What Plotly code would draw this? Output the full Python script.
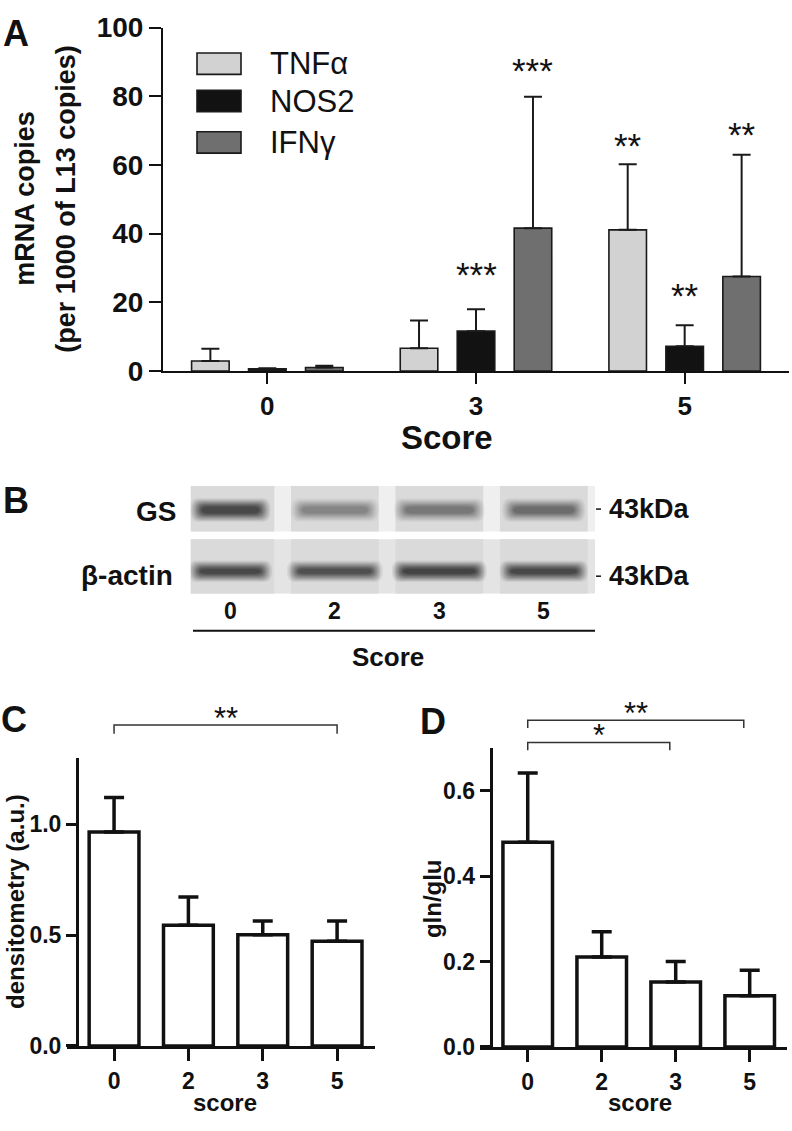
import plotly.graph_objects as go

W, H = 792, 1131
FONT = "Liberation Sans, Arial, sans-serif"

# ---------------- data ----------------
# Panel A
cats_A = ["0", "3", "5"]
series_A = ["TNFα", "NOS2", "IFNγ"]
tnf = [2.9, 6.6, 41.1]
tnf_err = [3.6, 8.1, 19.1]
nos2 = [0.6, 11.6, 7.2]
nos2_err = [0.2, 6.4, 6.1]
ifn = [1.0, 41.6, 27.5]
ifn_err = [0.5, 38.3, 35.5]
colors_A = ["#d2d2d2", "#121212", "#6f6f6f"]
star_text_A = ["***", "***", "**", "**", "**"]
star_series_A = [1, 2, 0, 1, 2]
star_cat_A = [1, 1, 2, 2, 2]
star_y_A = [26.9, 86.4, 64.4, 20.8, 67.6]

# Panel B (western blot, relative band darkness)
lanes_B = ["0", "2", "3", "5"]
gs_intensity = [0.95, 0.42, 0.52, 0.6]
gs_band_w = [0.55, 0.63, 0.65, 0.58]
actin_intensity = [0.95, 0.85, 1.0, 0.95]
actin_band_w = [0.58, 0.70, 0.69, 0.63]

# Panel C
cats_C = ["0", "2", "3", "5"]
dens = [0.965, 0.544, 0.501, 0.472]
dens_err = [0.155, 0.128, 0.062, 0.091]

# Panel D
cats_D = ["0", "2", "3", "5"]
glnglu = [0.48, 0.211, 0.152, 0.12]
glnglu_err = [0.162, 0.059, 0.048, 0.06]


def px(x):
    return x / W


def py(y):
    return 1 - y / H


fig = go.Figure()

# ---------------- Panel A ----------------
vals_A = [tnf, nos2, ifn]
errs_A = [tnf_err, nos2_err, ifn_err]
slot = 0.273
bw = 0.18
for i in range(3):
    fig.add_trace(go.Bar(
        x=cats_A, y=vals_A[i], name=series_A[i],
        width=bw, offset=(i - 1) * slot - bw / 2,
        marker=dict(color=colors_A[i], line=dict(color="#1a1a1a", width=1.6)),
        error_y=dict(type="data", symmetric=False, array=errs_A[i],
                     arrayminus=[0] * 3, thickness=2, width=9, color="#1a1a1a"),
        xaxis="x", yaxis="y", showlegend=False,
    ))

# ---------------- Panel C ----------------
fig.add_trace(go.Bar(
    x=cats_C, y=dens, width=0.67,
    marker=dict(color="white", line=dict(color="#111", width=3.5)),
    error_y=dict(type="data", symmetric=False, array=dens_err,
                 arrayminus=[0] * 4, thickness=3.5, width=10, color="#111"),
    xaxis="x2", yaxis="y2", showlegend=False,
))

# ---------------- Panel D ----------------
fig.add_trace(go.Bar(
    x=cats_D, y=glnglu, width=0.67,
    marker=dict(color="white", line=dict(color="#111", width=3.5)),
    error_y=dict(type="data", symmetric=False, array=glnglu_err,
                 arrayminus=[0] * 4, thickness=3.5, width=10, color="#111"),
    xaxis="x3", yaxis="y3", showlegend=False,
))

bold = dict(family=FONT, color="#111", weight="bold")
common = dict(showgrid=False, zeroline=False, ticklabeloverflow="allow",
              linecolor="#111", tickcolor="#111", showline=True, ticks="outside")

fig.update_layout(
    width=W, height=H, margin=dict(l=0, r=0, t=0, b=0),
    paper_bgcolor="white", plot_bgcolor="white",
    barmode="group",
    font=dict(family=FONT, color="#111"),
    xaxis=dict(domain=[px(163), px(789)], anchor="y", type="category",
               range=[-0.5, 2.5], linewidth=2, ticklen=11, tickwidth=2,
               tickfont=dict(size=26, **bold), **common),
    yaxis=dict(domain=[py(366), py(13)], anchor="x", range=[0, 100],
               tickvals=[0, 20, 40, 60, 80, 100], linewidth=2,
               ticklen=12, tickwidth=2, tickfont=dict(size=28, **bold), **common),
    xaxis2=dict(domain=[px(67), px(375)], anchor="y2", type="category",
                range=[-0.633, 3.51], linewidth=3, ticklen=12, tickwidth=3,
                tickfont=dict(size=23, **bold), **common),
    yaxis2=dict(domain=[py(1060), py(763.6)], anchor="free", position=px(77),
                range=[0, 1.3], tickvals=[0, 0.5, 1.0], tickformat=".1f",
                linewidth=3, ticklen=10, tickwidth=3,
                tickfont=dict(size=23, **bold), **common),
    xaxis3=dict(domain=[px(480), px(786.7)], anchor="y3", type="category",
                range=[-0.645, 3.5], linewidth=3, ticklen=12, tickwidth=3,
                tickfont=dict(size=23, **bold), **common),
    yaxis3=dict(domain=[py(1061), py(754)], anchor="free", position=px(490.7),
                range=[0, 0.7], tickvals=[0, 0.2, 0.4, 0.6], tickformat=".1f",
                linewidth=3, ticklen=10, tickwidth=3,
                tickfont=dict(size=23, **bold), **common),
    xaxis4=dict(domain=[px(190.7), px(595)], anchor="y4", range=[-0.38, 3.49],
                visible=False),
    yaxis4=dict(domain=[py(595), py(484)], anchor="x4", range=[0, 111],
                visible=False),
)

shapes = []
ann = []


def text(x, y, s, size, weight="bold", xanchor="center", yanchor="middle",
         xref="paper", yref="paper", angle=0, yshift=0):
    ann.append(dict(x=x, y=y, text=s, xref=xref, yref=yref, showarrow=False,
                    xanchor=xanchor, yanchor=yanchor, textangle=angle, yshift=yshift,
                    borderpad=0,
                    font=dict(family=FONT, size=size, color="#111", weight=weight)))


# Panel labels
text(px(16), py(19), "A", 36)
text(px(16), py(499), "B", 36)
text(px(14), py(724), "C", 36)
text(px(433), py(726), "D", 36)

# Panel A titles
text(px(25), py(189), "mRNA copies", 27, angle=-90)
text(px(66), py(189), "(per 1000 of L13 copies)", 27, angle=-90)
text(px(447), py(434), "Score", 33)

# Panel A legend (drawn from series names / colours)
leg_y = [50, 88.5, 131]
for i in range(3):
    shapes.append(dict(type="rect", xref="paper", yref="paper",
                       x0=px(197), x1=px(241), y0=py(leg_y[i] + 11), y1=py(leg_y[i] - 11),
                       fillcolor=colors_A[i], line=dict(color="#1a1a1a", width=1.6)))
    text(px(269), py(leg_y[i]), series_A[i], 31, weight="normal", xanchor="left")

# Panel A stars
for t, s, c, yv in zip(star_text_A, star_series_A, star_cat_A, star_y_A):
    text(c + (s - 1) * slot, yv, t, 35, weight="normal", xref="x", yref="y", yshift=4)

# ---------------- Panel B blot ----------------
strips = [(64, 111, "#efefef"), (0, 56, "#e4e4e4")]
for (y0, y1, bg) in strips:
    shapes.append(dict(type="rect", xref="x4", yref="y4", x0=-0.38, x1=3.49,
                       y0=y0, y1=y1, fillcolor=bg, line=dict(width=0), layer="below"))
    for i in range(4):
        shapes.append(dict(type="rect", xref="x4", yref="y4", x0=i - 0.42, x1=i + 0.42,
                           y0=y0, y1=y1, fillcolor="#dadada", line=dict(width=0), layer="below"))


def band(i, yc, h, w, inten):
    n = 9
    for k in range(n):
        t = k / (n - 1)
        gx = 0.11 * (1 - t)
        gy = 7 * (1 - t) - 1.5 * t
        op = (0.07 + 0.12 * t) * inten
        x0, x1 = i - w / 2 - gx, i + w / 2 + gx
        y0, y1 = yc - h / 2 - gy, yc + h / 2 + gy
        r = (y1 - y0) / 2
        rx = min(0.07, (x1 - x0) / 4)
        path = (f"M {x0 + rx},{y0} L {x1 - rx},{y0} Q {x1},{y0} {x1},{y0 + r} "
                f"Q {x1},{y1} {x1 - rx},{y1} L {x0 + rx},{y1} Q {x0},{y1} {x0},{y0 + r} "
                f"Q {x0},{y0} {x0 + rx},{y0} Z")
        shapes.append(dict(type="path", xref="x4", yref="y4", path=path,
                           fillcolor="#0a0a0a", opacity=op, line=dict(width=0)))


for i in range(4):
    band(i, 86, 10, gs_band_w[i], gs_intensity[i])
    band(i, 23, 8, actin_band_w[i], actin_intensity[i])

text(px(177), py(510), "GS", 28, xanchor="right")
text(px(174), py(576), "β-actin", 28, xanchor="right")
for yy in (508, 577):
    shapes.append(dict(type="line", xref="paper", yref="paper", x0=px(596), x1=px(601),
                       y0=py(yy), y1=py(yy), line=dict(color="#111", width=1.5)))
    text(px(608), py(yy), "43kDa", 27, xanchor="left")
for i, lab in enumerate(lanes_B):
    text(i, py(613), lab, 23, xref="x4")
shapes.append(dict(type="line", xref="paper", yref="paper", x0=px(193), x1=px(595),
                   y0=py(633), y1=py(633), line=dict(color="#111", width=2)))
text(px(388), py(660), "Score", 26)

# ---------------- Panel C annotations ----------------
text(px(15), py(912), "densitometry (a.u.)", 24, angle=-90)
text(px(225), py(1118), "score", 24)


def bracket(xref, c0, c1, ypx, drop, label):
    shapes.append(dict(type="path", xref=xref, yref="paper",
                       path=f"M {c0},{py(ypx + drop)} L {c0},{py(ypx)} L {c1},{py(ypx)} L {c1},{py(ypx + drop)}",
                       line=dict(color="#333", width=1.5)))
    text((c0 + c1) / 2, py(ypx - 10), label, 31, weight="normal", xref=xref, yshift=-3)


bracket("x2", 0, 3, 730, 9, "**")

# ---------------- Panel D annotations ----------------
text(px(432), py(908), "gln/glu", 24, angle=-90)
text(px(640), py(1118), "score", 24)
bracket("x3", 0, 2.92, 725, 8, "**")
bracket("x3", 0, 1.92, 748, 8, "*")

fig.update_layout(shapes=shapes, annotations=ann)
fig.write_html("out.html", config={"displayModeBar": False},
               post_script="document.body.style.margin='0';document.body.style.padding='0';")
